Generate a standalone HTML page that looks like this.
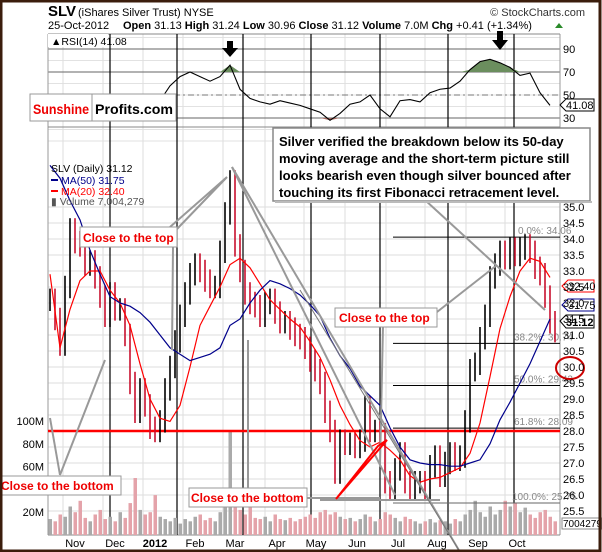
<!DOCTYPE html>
<html><head><meta charset="utf-8"><style>
html,body{margin:0;padding:0;background:#fff}
svg{display:block;font-family:"Liberation Sans",sans-serif}
</style></head><body>
<svg id="c" width="602" height="552" viewBox="0 0 602 552">
<rect x="0" y="0" width="602" height="552" fill="#fff"/>
<g id="grid"></g>
<g id="vol"></g>
<g id="fib"></g>
<g id="bars"></g>
<g id="lines"></g>
<g id="anno"></g>
<g id="text"></g>
<rect x="1" y="1" width="599" height="550" fill="none" stroke="#3b1d0c" stroke-width="3"/>
</svg>
<script>
const closes=[32.1,31.5,30.7,32.5,34.3,33.9,33.8,33.2,33.3,32.8,32.2,31.6,32.3,31.8,31.8,31.0,29.5,28.6,29.3,28.8,28.1,28.0,28.3,29.3,30.0,30.8,31.6,32.3,32.9,33.2,33.0,32.7,32.5,32.5,33.6,34.8,35.8,33.8,33.0,32.3,32.0,31.9,31.6,32.0,32.1,31.7,31.4,31.4,31.2,31.0,30.9,30.6,30.2,29.9,29.5,28.6,28.0,26.7,27.7,27.6,27.6,27.5,27.7,28.75,28.0,28.0,27.9,26.4,26.2,26.8,27.3,26.4,26.2,26.4,26.4,26.2,26.9,27.2,26.6,27.0,27.3,27.1,27.2,28.3,29.9,30.1,30.9,31.6,32.8,33.2,33.6,33.4,33.7,33.5,33.7,33.8,33.6,33.1,32.9,32.2,31.4,31.12];
const volumes=[14,12,18,16,25,20,30,15,12,18,22,14,16,12,20,15,28,50,22,18,20,35,16,14,12,15,10,14,12,16,18,13,15,12,20,30,92,40,22,18,25,15,14,16,12,18,14,13,15,12,14,16,18,15,20,22,18,20,16,14,15,12,14,18,16,12,14,20,18,15,12,16,14,12,10,12,14,11,13,12,10,14,12,18,22,30,20,16,25,18,22,30,25,28,20,24,18,15,20,22,16,12];
const ma20=[32.9,30.6,31.8,32.7,33.0,33.0,32.4,32.0,31.3,30.1,29.0,28.4,28.3,28.8,30.0,31.3,31.9,32.5,33.2,33.4,33.1,32.6,32.1,31.8,31.5,31.25,30.8,30.3,29.6,28.8,28.2,27.7,27.5,27.65,27.4,27.1,26.6,26.4,26.5,26.55,26.7,26.85,27.3,28.25,29.7,31.2,32.2,33.0,33.4,33.3,32.8];
const ma50=[36.3,35.9,35.2,34.6,33.65,32.9,32.2,32.0,31.9,31.7,31.4,31.0,30.6,30.4,30.2,30.3,30.4,30.6,31.3,31.5,32.0,32.4,32.7,32.6,32.45,32.25,31.95,31.6,30.9,30.35,29.95,29.4,29.1,28.8,28.1,27.5,27.1,27.0,26.95,26.95,26.9,26.9,27.0,27.1,27.6,28.35,28.9,29.5,30.1,30.8,31.5];
const rsi=[45,40,48,46,44,42,45,40,38,36,32,45,58,66,70,66,62,66,76,55,47,44,42,45,43,41,38,35,28,34,42,44,50,38,31,45,46,44,52,55,56,62,72,79,81,78,74,67,69,52,41];
const priceTicks=[25.5,26.0,26.5,27.0,27.5,28.0,28.5,29.0,29.5,30.0,30.5,31.0,31.5,32.0,32.5,33.0,33.5,34.0,34.5,35.0];
const rsiTicks=[90,70,50,30];
const volTicks=[20,60,80,100];
const volTickLabels=["20M","60M","80M","100M"];
const months=["Nov","Dec","2012","Feb","Mar","Apr","May","Jun","Jul","Aug","Sep","Oct"];
const monthX=[75,115,155,195,235,277,316,357,398,437,478,517];
const fibLevels=[34.06,30.74,29.42,28.09,25.75];
const fibLabels=["0.0%: 34.06","38.2%: 30.74","50.0%: 29.42","61.8%: 28.09","100.0%: 25.75"];

const NS="http://www.w3.org/2000/svg";
function el(tag,attrs,parent,txt){const e=document.createElementNS(NS,tag);for(const k in attrs)e.setAttribute(k,attrs[k]);if(txt!==undefined)e.textContent=txt;document.getElementById(parent).appendChild(e);return e;}
const L=48,R=560;
const yP=p=>431-(p-28)*32;
const yR=v=>118-(v-30)*(23/20);
const yV=v=>535-v*1.14;
const xI=i=>50+i*5;
const xM=i=>50+i*10;

for(const p of priceTicks){const g=el('line',{x1:L,x2:R,y1:yP(p),y2:yP(p),stroke:'#ddd','stroke-width':1},'grid');

}
for(let v=10;v<=100;v+=10){el('line',{x1:L,x2:R,y1:yR(v),y2:yR(v),stroke:'#e2e2e2'},'grid');}
for(const x of monthX){const g=el('line',{x1:x-12,x2:x-12,y1:34,y2:535,stroke:'#ddd'},'grid');

}
for(const v of rsiTicks){el('line',{x1:L,x2:R,y1:yR(v),y2:yR(v),stroke:v==50?'#777':'#666','stroke-dasharray':v==50?'6,3,2,3':'none'},'grid');}
el('line',{x1:L,x2:L,y1:34,y2:535,stroke:'#999'},'grid');
el('line',{x1:R,x2:R,y1:34,y2:535,stroke:'#999'},'grid');
el('line',{x1:L,x2:R,y1:127,y2:127,stroke:'#888'},'grid');
el('line',{x1:L,x2:R,y1:535,y2:535,stroke:'#888'},'grid');
el('line',{x1:L,x2:R,y1:34,y2:34,stroke:'#888'},'grid');
for(const x of [110,177,243,311,380,448,514]){const g=el('line',{x1:x,x2:x,y1:34,y2:535,stroke:'#000','stroke-width':1.2},'grid');

}

volumes.forEach((v,i)=>{const down=i>0&&closes[i]<closes[i-1];const r=el('rect',{x:xI(i)-1.5,y:yV(v),width:3.5,height:535-yV(v),fill:down?'#e4a3aa':'#aaa'},'vol');

});

fibLevels.forEach((f,i)=>{const ln=el('line',{x1:393,x2:R,y1:yP(f),y2:yP(f),stroke:i==4?'#666':'#000','stroke-width':1},'fib');


const t=el('text',{x:i==0?518:(i==4?512:514),y:yP(f)-3,'font-size':10,fill:'#888'},'fib',fibLabels[i]);

});
el('line',{x1:L,x2:R,y1:431,y2:431,stroke:'#f00','stroke-width':2.5},'fib');

closes.forEach((c,i)=>{const prev=i>0?closes[i-1]:c;const hi=Math.max(c,prev)+0.35,lo=Math.min(c,prev)-0.35;const down=c<prev;
const b=el('line',{x1:xI(i),x2:xI(i),y1:yP(hi),y2:yP(lo),stroke:down?'#c8102e':'#000','stroke-width':1.6},'bars');

});

const p20=ma20.map((v,i)=>xM(i)+','+yP(v)).join(' ');
const m20=el('polyline',{points:p20,fill:'none',stroke:'#f00','stroke-width':1.2},'lines');


const p50=ma50.map((v,i)=>xM(i)+','+yP(v)).join(' ');
const m50=el('polyline',{points:p50,fill:'none',stroke:'#00008b','stroke-width':1.2},'lines');



const rpts=rsi.map((v,i)=>[xM(i),yR(v)]);
let gp='M'+xM(0)+','+yR(70);rsi.forEach((v,i)=>{gp+=' L'+xM(i)+','+yR(Math.max(v,70));});gp+=' L'+xM(rsi.length-1)+','+yR(70)+'Z';
const gf=el('path',{d:gp,fill:'#6b8e5e'},'lines');


let rp='M'+xM(0)+','+yR(30);rsi.forEach((v,i)=>{rp+=' L'+xM(i)+','+yR(Math.min(v,30));});rp+=' L'+xM(rsi.length-1)+','+yR(30)+'Z';
const rf=el('path',{d:rp,fill:'#a86b62'},'lines');


const rl=el('polyline',{points:rpts.map(p=>p.join(',')).join(' '),fill:'none',stroke:'#000','stroke-width':1.1},'lines');



priceTicks.forEach(p=>{const t=el('text',{x:563,y:yP(p)+4,'font-size':11,fill:'#000'},'text',p.toFixed(1));

});
rsiTicks.forEach(v=>{const t=el('text',{x:563,y:yR(v)+4,'font-size':11},'text',String(v));

});
volTicks.forEach((v,i)=>{const t=el('text',{x:44,y:yV(v)+4,'font-size':11,'text-anchor':'end'},'text',volTickLabels[i]);

});
months.forEach((m,i)=>{const t=el('text',{x:monthX[i],y:547,'font-size':11,'text-anchor':'middle','font-weight':m=='2012'?'bold':'normal'},'text',m);

});
</script>
<script>
(function(){
const a=document.getElementById('anno');
a.insertAdjacentHTML('beforeend',`
<g stroke="#999" stroke-width="2" fill="none">
<polyline points="170,227 227,177 177,229"/>
<line x1="173" y1="247" x2="172" y2="350"/>
<line x1="232" y1="167" x2="395" y2="495"/>
<line x1="232" y1="167" x2="460" y2="552"/>
<line x1="50" y1="418" x2="60" y2="475"/>
<line x1="60" y1="475" x2="105" y2="360"/>
<line x1="248" y1="488" x2="248" y2="340"/>
<line x1="305" y1="498" x2="380" y2="498"/>
<line x1="320" y1="500" x2="440" y2="500"/>
<line x1="383" y1="326" x2="380" y2="465"/>
<line x1="437" y1="312" x2="497" y2="265"/>
<line x1="425" y1="200" x2="545" y2="310"/>
<line x1="300" y1="290" x2="460" y2="552" stroke="#777" stroke-width="1"/>
</g>
<polygon points="336,499 387,440 378,446" fill="none" stroke="#f00" stroke-width="2"/>
<ellipse cx="570" cy="368" rx="14" ry="11" fill="none" stroke="#c00" stroke-width="2"/>
<g>
<rect x="273" y="128" width="317" height="73" fill="#fff" stroke="#888" stroke-width="1.5"/>
<rect x="275" y="201" width="317" height="2" fill="#bbb"/>
<text font-size="13" font-weight="bold" x="279" y="146">Silver verified the breakdown below its 50-day</text>
<text font-size="13" font-weight="bold" x="279" y="163">moving average and the short-term picture still</text>
<text font-size="13" font-weight="bold" x="279" y="180">looks bearish even though silver bounced after</text>
<text font-size="13" font-weight="bold" x="279" y="197">touching its first Fibonacci retracement level.</text>
</g>
<g>
<rect x="30" y="94" width="62" height="27" fill="#fff" stroke="#999"/>
<rect x="92" y="94" width="84" height="27" fill="#fff" stroke="#999"/>
<text x="33" y="114" font-size="14" font-weight="bold" fill="#e00" textLength="56" lengthAdjust="spacingAndGlyphs">Sunshine</text>
<text x="95" y="114" font-size="14" font-weight="bold" fill="#000" textLength="78" lengthAdjust="spacingAndGlyphs">Profits.com</text>
</g>
<g font-size="12" font-weight="bold" fill="#f00">
<g><rect x="80" y="227" width="97" height="20" fill="#fff" stroke="#999"/><text x="83" y="242" fill="#e00">Close to the top</text></g>
<g><rect x="335" y="308" width="102" height="19" fill="#fff" stroke="#999"/><text x="339" y="322" fill="#e00">Close to the top</text></g>
<g><rect x="0" y="476" width="121" height="19" fill="#fff" stroke="#999"/><text x="1" y="490" fill="#e00">Close to the bottom</text></g>
<g><rect x="189" y="488" width="118" height="19" fill="#fff" stroke="#999"/><text x="191" y="502" fill="#e00">Close to the bottom</text></g>
</g>
<g fill="#000">
<rect x="227" y="41" width="6" height="7"/><polygon points="222,48 238,48 230,57"/>
<rect x="497" y="31" width="6" height="9"/><polygon points="492,40 508,40 500,50"/>
</g>
<g font-size="11">
<polygon points="562,286 568,280 594,280 594,292 568,292" fill="#fff" stroke="#f00"/><text x="568" y="290" fill="#000">32.40</text>
<polygon points="562,305 568,299 594,299 594,311 568,311" fill="#fff" stroke="#00008b"/><text x="568" y="309" fill="#000">31.75</text>
<polygon points="560,321 566,315 594,315 594,328 566,328" fill="#fff" stroke="#000"/><text x="566" y="326" font-weight="bold">31.12</text>
<polygon points="560,105 566,99 594,99 594,111 566,111" fill="#fff" stroke="#000"/><text x="566" y="109">41.08</text>
<rect x="562" y="518" width="40" height="11" fill="#fff" stroke="#888"/><text x="563" y="527" font-size="10">7004279</text>
</g>
<g>
<text x="48" y="16" font-size="15" font-weight="bold">SLV</text>
<text x="78" y="16" font-size="11">(iShares Silver Trust) NYSE</text>
<text x="585" y="16" font-size="11" text-anchor="end" fill="#333">© StockCharts.com</text>
<text x="48" y="29" font-size="11">25-Oct-2012</text>
<text x="123" y="29" font-size="11"><tspan font-weight="bold">Open</tspan> 31.13 <tspan font-weight="bold">High</tspan> 31.24 <tspan font-weight="bold">Low</tspan> 30.96 <tspan font-weight="bold">Close</tspan> 31.12 <tspan font-weight="bold">Volume</tspan> 7.0M <tspan font-weight="bold">Chg</tspan> +0.41 (+1.34%)</text>
<polygon points="555,28 559,23 563,28" fill="#2a8a2a"/>
</g>
<g font-size="10.5">
<rect x="48" y="34" width="60" height="13" fill="#fff"/>
<text x="51" y="45">▲RSI(14) 41.08</text>
<text x="51" y="172">SLV (Daily) 31.12</text>
<line x1="51" y1="180" x2="58" y2="180" stroke="#00008b" stroke-width="2"/><text x="61" y="184" fill="#00008b">MA(50) 31.75</text>
<line x1="51" y1="191" x2="58" y2="191" stroke="#f00" stroke-width="2"/><text x="61" y="195" fill="#f00">MA(20) 32.40</text>
<text x="51" y="205" fill="#555">▮ Volume 7,004,279</text>
</g>`);
})();
</script>
</body></html>
